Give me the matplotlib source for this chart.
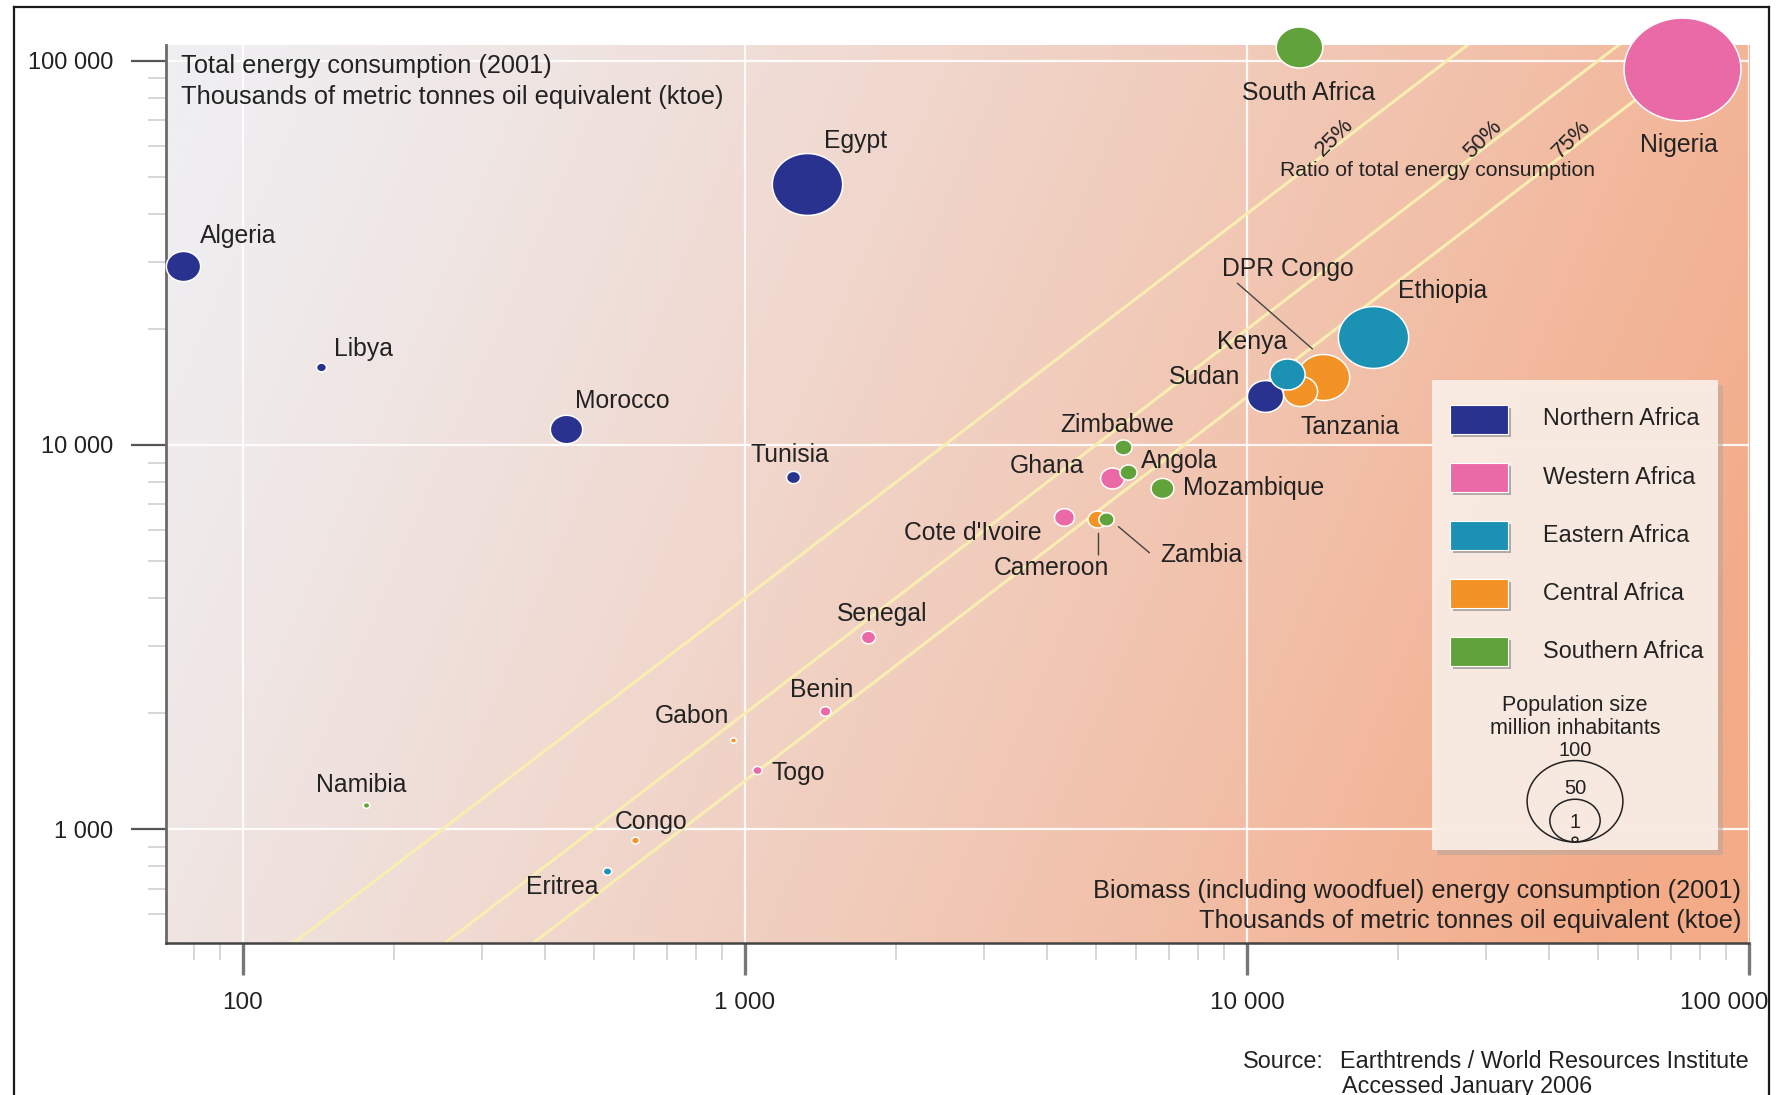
"""
Biomass vs total energy consumption in African countries (2001) - bubble chart
"""
import matplotlib
matplotlib.use('Agg')
import matplotlib.pyplot as plt
import numpy as np
from matplotlib.path import Path
from matplotlib.patches import Rectangle, Ellipse
from matplotlib.lines import Line2D
from matplotlib.text import OffsetFrom
from matplotlib.ticker import NullFormatter
from matplotlib.colors import to_rgb
from matplotlib.transforms import ScaledTranslation

plt.rcParams['font.family'] = ['Liberation Sans', 'DejaVu Sans']

# ── Data ──────────────────────────────────────────────────────────────────────
countries = ['Algeria', 'Libya', 'Morocco', 'Egypt', 'Tunisia', 'South Africa', 'Nigeria',
             'DPR Congo', 'Tanzania', 'Sudan', 'Kenya', 'Ethiopia', 'Zimbabwe', 'Ghana',
             'Angola', 'Mozambique', "Cote d'Ivoire", 'Cameroon', 'Zambia', 'Senegal',
             'Benin', 'Gabon', 'Togo', 'Namibia', 'Congo', 'Eritrea']
regions = ['N', 'N', 'N', 'N', 'N', 'S', 'W',
           'C', 'C', 'N', 'E', 'E', 'S', 'W',
           'S', 'S', 'W', 'C', 'S', 'W',
           'W', 'C', 'W', 'S', 'C', 'E']
# biomass (incl. woodfuel) energy consumption, ktoe
biomass = [76, 143, 441, 1327, 1247, 12700, 73600,
           14160, 12760, 10850, 12000, 17800, 5656, 5380,
           5804, 6766, 4323, 5023, 5234, 1760,
           1444, 947, 1056, 176, 603, 531]
# total energy consumption, ktoe
total = [29300, 16000, 11000, 47800, 8270, 108400, 95300,
         15010, 13850, 13440, 15330, 19150, 9863, 8190,
         8490, 7715, 6506, 6417, 6417, 3165,
         2025, 1709, 1423, 1157, 936, 776]
# population, million inhabitants
population = [31, 5.4, 29, 69, 9.6, 44, 118,
              50, 31, 33, 32, 69, 13, 20,
              13, 19, 16, 15, 11, 10,
              6.4, 1.3, 4.7, 1.8, 3.1, 3.8]

region_keys = ['N', 'W', 'E', 'C', 'S']
region_names = ['Northern Africa', 'Western Africa', 'Eastern Africa', 'Central Africa', 'Southern Africa']
region_colors = ['#29338f', '#ea6aa7', '#1b92b4', '#f39325', '#62a23b']

ratio_levels = [0.25, 0.5, 0.75]
ratio_labels = ['25%', '50%', '75%']

x_ticks = [100, 1000, 10000, 100000]
x_tick_labels = ['100', '1 000', '10 000', '100 000']
y_ticks = [1000, 10000, 100000]
y_tick_labels = ['1 000', '10 000', '100 000']

legend_pops = [100, 50, 1]

# label offsets (points) from each bubble, and alignment
label_offsets = {
    'Algeria': (40, 21), 'Libya': (31, 13), 'Morocco': (40, 20), 'Egypt': (35, 31),
    'Tunisia': (-2, 15.5), 'South Africa': (7, -33), 'Nigeria': (-2, -55),
    'DPR Congo': (-25, 78), 'Tanzania': (36, -26), 'Sudan': (-43, 13.7), 'Kenya': (-25, 23),
    'Ethiopia': (50.6, 33), 'Zimbabwe': (-4, 16), 'Ghana': (-47, 9), 'Angola': (37, 8.4),
    'Mozambique': (15, 0.5), "Cote d'Ivoire": (-65.5, -12), 'Cameroon': (-33, -35),
    'Zambia': (69, -26), 'Senegal': (10.4, 16.5), 'Benin': (-2.7, 15.6), 'Gabon': (-29.5, 17),
    'Togo': (10.7, -1.7), 'Namibia': (-3.2, 14.2), 'Congo': (12.2, 12.7), 'Eritrea': (-32.4, -11.2),
}
left_aligned = ['Mozambique', 'Togo']
leaders = {
    'DPR Congo': ((-61.5, 67.7), (-7.5, 20.4)),
    'Cameroon': ((1.2, -10.3), (1.2, -25.9)),
    'Zambia': ((9.1, -5.5), (31.4, -24.3)),
}

# ── Figure ────────────────────────────────────────────────────────────────────
W, H = 1776, 1095
fig = plt.figure(figsize=(W / 100, H / 100), dpi=100)
TXT = '#222222'


def fp(px, py):
    """reference pixel -> figure fraction"""
    return px / W, 1 - py / H


ax_rect = [165.7 / W, 1 - 943 / H, (1749 - 165.7) / W, (943 - 45) / H]

# gradient background
bg = fig.add_axes(ax_rect, zorder=0)
u = np.linspace(0, 1, 400)[None, :]
v = np.linspace(1, 0, 300)[:, None]
t = np.clip(0.9 * u + 0.22 * (1 - v) - 0.04, 0, 1) ** 1.15
c0 = np.array(to_rgb('#efeef1'))
c1 = np.array(to_rgb('#f3ab88'))
img = c0[None, None, :] * (1 - t[..., None]) + c1[None, None, :] * t[..., None]
bg.imshow(img, aspect='auto', extent=[0, 1, 0, 1], interpolation='bilinear')
bg.axis('off')

ax = fig.add_axes(ax_rect, zorder=1)
ax.patch.set_alpha(0)
ax.set_xscale('log')
ax.set_yscale('log')
ax.set_xlim(70.2, 100000)
ax.set_ylim(505, 110000)

ax.grid(which='major', color='white', lw=1.6, alpha=0.9)
ax.set_axisbelow(True)

# ratio lines: biomass = ratio * total
xs = np.logspace(np.log10(70.2), 5, 50)
for r in ratio_levels:
    ax.plot(xs, xs / r, color='#f8eeb2', lw=2.2, zorder=1.5)

# bubbles (slightly wider than tall, like the original)
th = np.linspace(0, 2 * np.pi, 80)
ell = Path(np.column_stack([np.cos(th), 0.88 * np.sin(th)]), closed=True)
cmap = dict(zip(region_keys, region_colors))


def bubble_pts(p):
    return (4.8 + 0.95 * p) * 0.72


for name, rg, bx, ty, p in zip(countries, regions, biomass, total, population):
    ax.scatter([bx], [ty], s=bubble_pts(p) ** 2, marker=ell, color=cmap[rg],
               edgecolors='white', linewidths=1.1, zorder=3, clip_on=False)
    dx, dy = label_offsets[name]
    ax.annotate(name, (bx, ty), xytext=(dx, dy), textcoords='offset points',
                ha='left' if name in left_aligned else 'center', va='center',
                fontsize=17.8, color=TXT, zorder=4)
    if name in leaders:
        p0, p1 = leaders[name]
        ref = OffsetFrom(ax.transData, (bx, ty), unit='points')
        ax.annotate('', xy=p1, xycoords=ref, xytext=p0, textcoords=ref,
                    arrowprops=dict(arrowstyle='-', color='#444444', lw=1.0,
                                    shrinkA=0, shrinkB=0), zorder=4)

# axes styling
ax.set_xticks(x_ticks)
ax.set_xticklabels(x_tick_labels)
ax.set_yticks(y_ticks)
ax.set_yticklabels(y_tick_labels)
ax.xaxis.set_minor_formatter(NullFormatter())
ax.yaxis.set_minor_formatter(NullFormatter())
ax.tick_params(axis='x', which='major', length=23, width=2.4, color='#777777',
               pad=12, labelsize=17.5, labelcolor=TXT)
ax.tick_params(axis='x', which='minor', length=12, width=1.2, color='#cfcfcf')
ax.tick_params(axis='y', which='major', length=25, width=1.6, color='#555555',
               pad=13, labelsize=17, labelcolor=TXT)
ax.tick_params(axis='y', which='minor', length=13, width=1.2, color='#cfcfcf')
# last x label sits a bit left of its tick, as in the original
last = ax.get_xticklabels()[-1]
last.set_transform(last.get_transform() + ScaledTranslation(-0.25, 0, fig.dpi_scale_trans))
for s in ['top', 'right']:
    ax.spines[s].set_visible(False)
ax.spines['left'].set_color('#6a6a6a')
ax.spines['left'].set_linewidth(2)
ax.spines['bottom'].set_color('#444444')
ax.spines['bottom'].set_linewidth(1.8)

# ── Texts ─────────────────────────────────────────────────────────────────────
fig.text(*fp(181, 66), 'Total energy consumption (2001)', fontsize=18.3, color=TXT, va='center')
fig.text(*fp(181, 97), 'Thousands of metric tonnes oil equivalent (ktoe)', fontsize=18.3, color=TXT, va='center')
fig.text(*fp(1741, 891), 'Biomass (including woodfuel) energy consumption (2001)', fontsize=18.3,
         color=TXT, va='center', ha='right', zorder=5)
fig.text(*fp(1741, 921), 'Thousands of metric tonnes oil equivalent (ktoe)', fontsize=18.3,
         color=TXT, va='center', ha='right', zorder=5)

fig.text(*fp(1437, 171), 'Ratio of total energy consumption', fontsize=15.2, color=TXT,
         ha='center', va='center', zorder=5)
for lab, (px, py) in zip(ratio_labels, [(1335, 137), (1483, 139), (1572, 139)]):
    fig.text(*fp(px, py), lab, fontsize=16, color=TXT, ha='center', va='center',
             rotation=45, zorder=5)

fig.text(*fp(1243, 1062), 'Source:', fontsize=16.8, color=TXT, va='center')
fig.text(*fp(1340, 1062), 'Earthtrends / World Resources Institute', fontsize=16.8, color=TXT, va='center')
fig.text(*fp(1342, 1086), 'Accessed January 2006', fontsize=16.8, color=TXT, va='center')

# ── Legend ────────────────────────────────────────────────────────────────────
x0, y0, x1, y1 = 1432, 380, 1718, 850
fig.add_artist(Rectangle(fp(x0 + 5, y1 + 5), (x1 - x0) / W, (y1 - y0) / H,
                         transform=fig.transFigure, facecolor='#b9a69b', alpha=0.55,
                         edgecolor='none', zorder=6))
fig.add_artist(Rectangle(fp(x0, y1), (x1 - x0) / W, (y1 - y0) / H,
                         transform=fig.transFigure, facecolor='#fbede5', alpha=0.95,
                         edgecolor='none', zorder=6))
for i, (nm, col) in enumerate(zip(region_names, region_colors)):
    cy = 419 + 58 * i
    fig.add_artist(Rectangle(fp(1453, cy + 17.5), 58 / W, 29 / H, transform=fig.transFigure,
                             facecolor='#b0aaa8', edgecolor='none', zorder=7))
    fig.add_artist(Rectangle(fp(1450, cy + 14.5), 58 / W, 29 / H, transform=fig.transFigure,
                             facecolor=col, edgecolor='white', lw=0.8, zorder=7))
    fig.text(*fp(1543, cy), nm, fontsize=16.8, color=TXT, va='center', zorder=7)

fig.text(*fp(1575, 706), 'Population size', fontsize=15.5, color=TXT, ha='center', va='center', zorder=7)
fig.text(*fp(1575, 728), 'million inhabitants', fontsize=15.5, color=TXT, ha='center', va='center', zorder=7)
for p, (lx, ly) in zip(legend_pops, [(1575, 750), (1575, 788), (1575, 823)]):
    wpx = 4.8 + 0.91 * p
    hpx = 0.85 * wpx
    fig.add_artist(Ellipse(fp(1575, 842 - hpx / 2), wpx / W, hpx / H, transform=fig.transFigure,
                           facecolor='none', edgecolor='#222222', lw=1.1, zorder=7))
    fig.text(*fp(lx, ly), str(p), fontsize=14.5, color=TXT, ha='center', va='center', zorder=7)

# outer frame
for xs_, ys_ in [([14, 14], [7, H]), ([14, 1769], [7, 7]), ([1769, 1769], [7, H])]:
    fig.add_artist(Line2D([x / W for x in xs_], [1 - y / H for y in ys_],
                          transform=fig.transFigure, color='#1a1a1a', lw=1.6, zorder=8))

fig.savefig('out.png', dpi=100)
print('Saved: out.png')
